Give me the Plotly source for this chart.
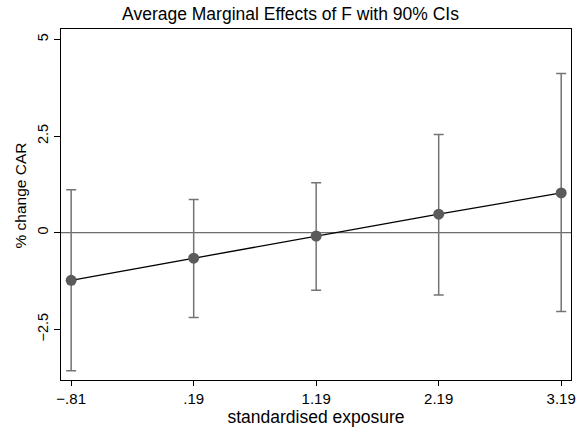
import plotly.graph_objects as go

x_vals = [-0.81, 0.19, 1.19, 2.19, 3.19]
x_labels = ["\u2212.81", ".19", "1.19", "2.19", "3.19"]
effects = [-1.23, -0.66, -0.085, 0.48, 1.03]
ci_upper = [1.11, 0.86, 1.29, 2.54, 4.12]
ci_lower = [-3.57, -2.19, -1.49, -1.61, -2.04]
y_ticks = [-2.5, 0, 2.5, 5]
y_labels = ["\u22122.5", "0", "2.5", "5"]

err_plus = [u - e for u, e in zip(ci_upper, effects)]
err_minus = [e - l for e, l in zip(effects, ci_lower)]

fig = go.Figure()
fig.add_trace(go.Scatter(
    x=x_vals, y=effects, mode="markers",
    marker=dict(size=11, color="rgba(0,0,0,0)"),
    error_y=dict(type="data", symmetric=False, array=err_plus, arrayminus=err_minus,
                 color="#747474", thickness=1.5, width=5),
    showlegend=False, hoverinfo="skip"))
fig.add_trace(go.Scatter(
    x=x_vals, y=effects, mode="lines+markers",
    line=dict(color="black", width=1.3),
    marker=dict(size=11, color="#5b5b5b"),
    showlegend=False))

fig.add_hline(y=0, line=dict(color="#6e6e6e", width=1.3), layer="below")

fig.add_annotation(
    text="% change CAR", xref="paper", yref="paper", x=0, y=0.5256,
    xshift=-40, xanchor="center", yanchor="middle", textangle=-90,
    showarrow=False, font=dict(size=15.5))

fig.update_layout(
    width=581, height=435,
    margin=dict(l=61, r=5, t=29, b=55),
    paper_bgcolor="white", plot_bgcolor="white",
    font=dict(family="Liberation Sans, Arial, sans-serif", color="black", size=13),
    title=dict(text="Average Marginal Effects of F with 90% CIs", x=0.5, xanchor="center",
               y=0.968, yanchor="middle", font=dict(size=17.5)),
)
fig.update_xaxes(
    range=[-0.893, 3.27], tickvals=x_vals, ticktext=x_labels,
    tickfont=dict(size=15),
    showgrid=False, zeroline=False, showline=True, linecolor="black", linewidth=1.3,
    mirror=True, ticks="outside", ticklen=5, tickcolor="black",
    title=dict(text="standardised exposure", font=dict(size=17.5), standoff=3),
)
fig.update_yaxes(
    range=[-3.81, 5.27], tickvals=y_ticks, ticktext=y_labels, tickangle=-90,
    tickfont=dict(size=14.5),
    showgrid=False, zeroline=False, showline=True, linecolor="black", linewidth=1.3,
    mirror=True, ticks="outside", ticklen=6, tickcolor="black",
)

fig.write_html("out.html")
